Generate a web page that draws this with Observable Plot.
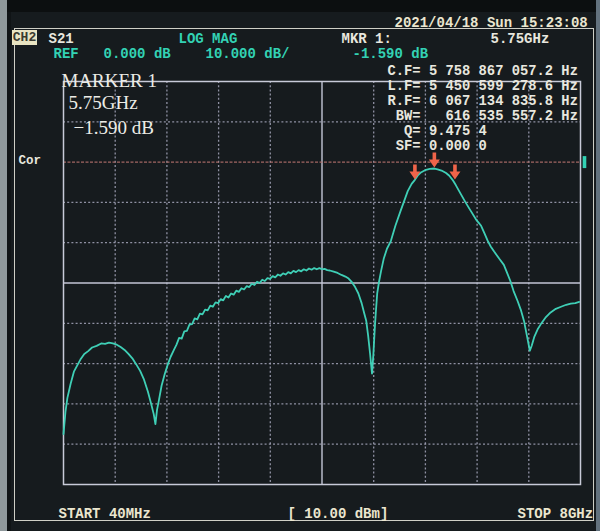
<!DOCTYPE html>
<html>
<head>
<meta charset="utf-8">
<script src="https://cdn.jsdelivr.net/npm/d3@7"></script>
<script src="https://cdn.jsdelivr.net/npm/@observablehq/plot@0.6"></script>
<style>
html, body { margin: 0; padding: 0; background: #14181b; }
#wrap { position: relative; width: 600px; height: 531px; overflow: hidden;
  background: linear-gradient(to right, #8f989b 0 7px, #101416 7px 11px, #161b1e 11px 596px, #63727e 596px 600px); }
#bezel { position: absolute; left: 14px; top: 28px; width: 580px; height: 493px;
  border: 1.5px solid #cfcfc6; box-sizing: border-box; }
#topband { position: absolute; left: 7px; top: 0; width: 589px; height: 12px; background: #0c0f10; }
#ch2 { position: absolute; left: 12px; top: 30px; width: 25px; height: 15px; background: #e9e4c2;
  color: #3a3a30; font: bold 13px "Liberation Mono", "DejaVu Sans Mono", monospace; line-height: 15px; text-align: center; }
#chart { position: absolute; left: 0; top: 0; }
svg text { white-space: pre; }
</style>
</head>
<body>
<div id="wrap">
  <div id="topband"></div>
  <div id="bezel"></div>
  <div id="chart"></div>
  <div id="ch2">CH2</div>
</div>
<script>
// ---- data (S21, LOG MAG) ----
const freqGHz = [
  0.04, 0.07, 0.10, 0.15, 0.20, 0.25, 0.30, 0.36, 0.42, 0.48, 0.55, 0.62, 0.68, 0.74, 0.80, 0.86, 0.92, 0.98,
  1.04, 1.10, 1.16, 1.22, 1.28, 1.34, 1.39, 1.43, 1.455, 1.48, 1.51, 1.55, 1.60, 1.65, 1.69, 1.74,
  1.78, 1.82, 1.86, 1.90, 1.94, 1.98, 2.02, 2.06, 2.10, 2.14, 2.18, 2.22, 2.26, 2.30, 2.34, 2.38, 2.42, 2.46,
  2.50, 2.54, 2.58, 2.62, 2.66, 2.70, 2.74, 2.78, 2.82, 2.86, 2.90, 2.94, 2.98, 3.02, 3.06, 3.10, 3.14, 3.18,
  3.22, 3.26, 3.30, 3.34, 3.38, 3.42, 3.46, 3.50, 3.54, 3.58, 3.62, 3.66, 3.70, 3.74, 3.78, 3.82, 3.86, 3.90,
  3.94, 3.98, 4.02, 4.06, 4.10, 4.14, 4.20, 4.26, 4.32, 4.38, 4.43, 4.48, 4.53, 4.58, 4.63, 4.67, 4.70, 4.73,
  4.76, 4.79, 4.81, 4.83, 4.85, 4.87, 4.90, 4.93, 4.97, 5.02, 5.08, 5.15, 5.23, 5.30, 5.34, 5.40, 5.45, 5.50,
  5.55, 5.62, 5.68, 5.75, 5.80, 5.86, 5.93, 5.98, 6.03, 6.08, 6.16, 6.23, 6.31, 6.39, 6.47, 6.52, 6.57, 6.62,
  6.67, 6.75, 6.82, 6.87, 6.92, 6.97, 7.03, 7.08, 7.13, 7.18, 7.22, 7.25, 7.29, 7.34, 7.39, 7.46, 7.54, 7.62,
  7.70, 7.78, 7.85, 7.92, 7.98
];
const s21dB = [
  -67.5, -62.0, -58.5, -55.0, -52.0, -50.5, -49.0, -47.6, -46.9, -46.0, -45.6, -45.0, -45.1, -44.8, -45.0, -45.3, -45.9, -46.6,
  -47.6, -48.7, -50.2, -51.8, -54.0, -57.0, -60.0, -62.6, -65.0, -61.5, -59.0, -55.5, -52.5, -50.0, -48.3, -46.6,
  -45.3, -43.6, -43.8, -42.0, -41.9, -40.3, -40.2, -38.8, -39.0, -37.6, -37.8, -36.6, -36.8, -35.6, -35.9, -34.8, -35.0, -34.0,
  -34.3, -33.2, -33.6, -32.6, -32.9, -31.9, -32.2, -31.3, -31.6, -30.8, -31.0, -30.2, -30.5, -29.7, -30.0, -29.2, -29.5, -28.8,
  -29.0, -28.3, -28.6, -27.9, -28.2, -27.6, -27.9, -27.3, -27.6, -27.0, -27.3, -26.8, -27.1, -26.6, -26.9, -26.4, -26.7, -26.3,
  -26.6, -26.3, -26.6, -26.5, -26.8, -26.9, -27.2, -27.5, -28.0, -28.4, -28.9, -29.8, -31.0, -32.6, -35.0, -37.5, -39.3, -43.0,
  -47.5, -52.5, -48.0, -42.0, -37.0, -32.6, -29.5, -27.0, -24.0, -21.5, -19.6, -15.8, -12.1, -9.0, -7.2, -5.4, -4.4, -3.2,
  -2.5, -1.9, -1.7, -1.59, -1.8, -2.1, -2.7, -3.4, -4.4, -5.7, -8.0, -10.0, -12.1, -14.2, -15.8, -17.6, -19.5, -21.0,
  -22.2, -24.0, -25.5, -27.5, -29.5, -32.0, -34.4, -36.6, -39.4, -43.5, -46.8, -45.5, -43.3, -41.5, -40.2, -38.6, -37.3, -36.4,
  -35.9, -35.4, -35.1, -35.0, -34.7
];
// 10 horizontal divisions (START 40 MHz .. STOP 8 GHz), 10 dB/div, REF 0 dB
const xGridDotted = [0.836, 1.632, 2.428, 3.224, 4.816, 5.612, 6.408, 7.204];
const xCenter = [4.02];
const yGridDotted = [10, -10, -20, -40, -50, -60, -70];
const yCenter = [-30];
const refLevel = [0];
const markerFreqGHz = [5.450599, 5.75, 6.067135];
const markerDB = [-4.59, -1.59, -4.59];

const dateText = "2021/04/18 Sun 15:23:08";
const headerWhite = ["S21", "MKR 1:", "5.75GHz"];
const headerTeal = ["LOG MAG", "REF", "0.000 dB", "10.000 dB/", "-1.590 dB"];
const markerBlock = [
  "C.F= 5 758 867 057.2 Hz",
  "L.F= 5 450 599 278.6 Hz",
  "R.F= 6 067 134 835.8 Hz",
  " BW=   616 535 557.2 Hz",
  "  Q= 9.475 4",
  " SF= 0.000 0"
];
const markerNote = ["MARKER 1", "5.75GHz", "\u22121.590 dB"];
const footer = ["START 40MHz", "[ 10.00 dBm]", "STOP 8GHz"];

// ---- layout ----
const W = 600, H = 531, ML = 63, MT = 81, MR = 20, MB = 47;
const MONO = "Liberation Mono, DejaVu Sans Mono, monospace";
const WHITE = "#e8e7df", TEAL = "#33d2b4", CREAM = "#ebe6cf";

function label(str, px, py, o = {}) {
  return Plot.text([str], {
    text: d => d, frameAnchor: "top-left", dx: px - ML, dy: py - MT,
    textAnchor: "start", lineAnchor: "middle",
    fontFamily: MONO, fontWeight: "bold", fontSize: 14, fill: WHITE, ...o
  });
}

const trace = freqGHz.map((f, i) => ({f, db: s21dB[i]}));
const markers = markerFreqGHz.map((f, i) => ({f, db: markerDB[i]}));

const arrowShape = {
  draw(ctx, l) {
    // pointing along -y; head at the far end
    ctx.moveTo(0, -l);
    ctx.lineTo(-5.5, -l + 8);
    ctx.lineTo(-1.8, -l + 8);
    ctx.lineTo(-1.8, 0);
    ctx.lineTo(1.8, 0);
    ctx.lineTo(1.8, -l + 8);
    ctx.lineTo(5.5, -l + 8);
    ctx.closePath();
  }
};
const barShape = { draw(ctx, l) { ctx.rect(-1.8, -l, 3.6, l); } };

const gridDot = {stroke: "#a4a6bb", strokeWidth: 1.3, strokeDasharray: "2,2.2", strokeOpacity: 0.85};
const gridSolid = {stroke: "#c3c6d6", strokeWidth: 1.4};

const plot = Plot.plot({
  width: W, height: H,
  marginLeft: ML, marginTop: MT, marginRight: MR, marginBottom: MB,
  style: {background: "transparent", overflow: "visible"},
  x: {domain: [0.04, 8], axis: null},
  y: {domain: [-80, 20], axis: null},
  marks: [
    Plot.ruleX(xGridDotted, gridDot),
    Plot.ruleY(yGridDotted, gridDot),
    Plot.ruleX(xCenter, gridSolid),
    Plot.ruleY(yCenter, gridSolid),
    Plot.ruleY(refLevel, {stroke: "#b06f6a", strokeWidth: 1.4, strokeDasharray: "3,1.5", strokeOpacity: 0.9}),
    Plot.frame({stroke: "#c8cad8", strokeWidth: 1.5}),
    Plot.vector(refLevel, {y: d => d, frameAnchor: "right", dx: 4, length: 12, anchor: "middle",
      shape: barShape, fill: TEAL, stroke: "none"}),
    Plot.line(trace, {x: "f", y: "db", stroke: "#3fcfb6", strokeWidth: 1.8, strokeLinejoin: "round"}),
    Plot.vector(markers, {x: "f", y: "db", length: 15, rotate: 180, anchor: "end",
      shape: arrowShape, fill: "#f0644a", stroke: "none", dy: -1}),
    // header
    label(dateText, 394, 22, {fill: CREAM}),
    label(headerWhite[0], 48, 38),
    label(headerWhite[1], 341, 38),
    label(headerWhite[2], 490, 38),
    label(headerTeal[0], 178, 38, {fill: TEAL}),
    label(headerTeal[1], 53, 53, {fill: TEAL}),
    label(headerTeal[2], 103, 53, {fill: TEAL}),
    label(headerTeal[3], 205, 53, {fill: TEAL}),
    label(headerTeal[4], 352, 53, {fill: TEAL}),
    // marker data block
    ...markerBlock.map((s, i) => label(s, 387, 70 + i * 15, {fontSize: 13.8})),
    // marker annotation (overlay)
    label(markerNote[0], 61, 80, {fontFamily: "Liberation Serif, DejaVu Serif, serif", fontWeight: "normal", fontSize: 19, fill: "#ecece6"}),
    label(markerNote[1], 68, 102, {fontFamily: "Liberation Serif, DejaVu Serif, serif", fontWeight: "normal", fontSize: 19, fill: "#ecece6"}),
    label(markerNote[2], 73, 127, {fontFamily: "Liberation Serif, DejaVu Serif, serif", fontWeight: "normal", fontSize: 19, fill: "#ecece6"}),
    label("Cor", 18, 159, {fontSize: 12.5}),
    // footer
    label(footer[0], 58, 513, {fill: CREAM}),
    label(footer[1], 287, 513, {fill: CREAM}),
    label(footer[2], 517, 513, {fill: CREAM})
  ]
});
document.getElementById("chart").appendChild(plot);
</script>
</body>
</html>
